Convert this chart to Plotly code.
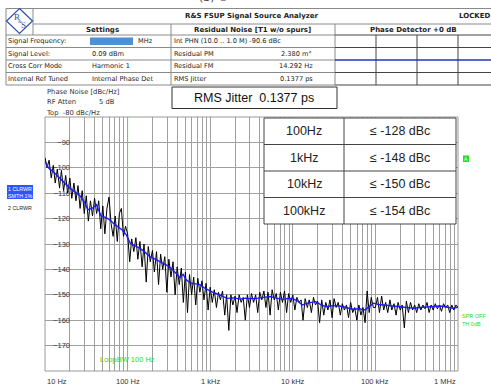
import math
import plotly.graph_objects as go

W, H = 491, 390

# ---------------- data ----------------
freq_d1 = [10, 10.6, 11.2, 11.9, 12.6, 13.3, 14.1, 15.0, 15.8, 16.8, 17.8, 18.8, 20.0, 21.1, 22.4, 23.7, 25.1, 26.6, 28.2, 29.9,
           31.6, 33.5, 35.5, 37.6, 39.8, 42.2, 44.7, 47.3, 50.1, 53.1, 56.2, 59.6, 63.1, 66.8, 70.8, 75.0, 79.4, 84.1, 89.1, 94.4]
level_d1 = [-96, -100, -97, -104, -99, -106, -100.5, -108, -101, -109, -103, -110, -104, -112, -106, -113, -107, -116, -109, -118,
            -111, -121, -113, -119, -112, -118, -113, -124, -115, -126, -116, -111.5, -122, -127, -119, -129, -118, -116, -127, -123]
freq_d2 = [100, 106, 112, 119, 126, 133, 141, 150, 158, 168, 178, 188, 200, 211, 224, 237, 251, 266, 282, 299,
           316, 335, 355, 376, 398, 422, 447, 473, 501, 531, 562, 596, 631, 668, 708, 750, 794, 841, 891, 944]
level_d2 = [-126, -137, -128, -133, -127.5, -136, -129, -139, -130, -145, -131, -137, -132.5, -141, -133, -146, -134, -140, -135, -149,
            -136, -143, -137, -150, -139, -146, -139.5, -153, -141, -157, -142, -150, -143, -154, -143.5, -149, -144.5, -152, -145.5, -156]
freq_d3 = [1000, 1060, 1120, 1190, 1260, 1330, 1410, 1500, 1580, 1680, 1780, 1880, 2000, 2110, 2240, 2370, 2510, 2660, 2820, 2990,
           3160, 3350, 3550, 3760, 3980, 4220, 4470, 4730, 5010, 5310, 5620, 5960, 6310, 6680, 7080, 7500, 7940, 8410, 8910, 9440]
level_d3 = [-147, -153, -148, -155, -149, -152, -148.5, -158, -150, -164, -150, -154, -150.5, -157, -150, -153, -151, -160, -150, -155,
            -149.5, -153, -150, -157, -149, -152, -148.5, -155, -149, -158, -148, -152, -149.5, -156, -149, -153, -148.5, -157, -149.5, -153]
freq_d4 = [10000, 10600, 11200, 11900, 12600, 13300, 14100, 15000, 15800, 16800, 17800, 18800, 20000, 21100, 22400, 23700, 25100, 26600, 28200, 29900,
           31600, 33500, 35500, 37600, 39800, 42200, 44700, 47300, 50100, 53100, 56200, 59600, 63100, 66800, 70800, 75000, 79400, 84100, 89100, 94400]
level_d4 = [-150, -156, -151, -153, -152, -160, -151.5, -155, -152, -157, -151, -154, -152.5, -161, -152, -158, -153, -156, -152, -159,
            -151.5, -155, -153, -158, -153.5, -156, -154, -159, -153, -157, -155, -160, -154, -158, -155, -161, -148.5, -157, -151, -155]
freq_d5 = [100000, 106000, 112000, 119000, 126000, 133000, 141000, 150000, 158000, 168000, 178000, 188000, 200000, 211000, 224000, 237000,
           251000, 266000, 282000, 299000, 316000, 335000, 355000, 376000, 398000, 422000, 447000, 473000, 501000, 531000, 562000, 596000,
           631000, 668000, 708000, 750000, 794000, 841000, 891000, 944000, 1000000]
level_d5 = [-155, -151, -157, -150.5, -156, -153, -157, -152, -156, -153.5, -158, -153, -156, -154, -163, -152.5,
            -157, -153, -156, -154, -157, -153.5, -156, -154, -155.5, -153, -157, -154, -156, -153.5, -155.5, -154,
            -156.5, -153.5, -155, -154, -157, -154, -156, -154, -155]

freq_black = freq_d1 + freq_d2 + freq_d3 + freq_d4 + freq_d5
level_black = level_d1 + level_d2 + level_d3 + level_d4 + level_d5
assert len(freq_black) == len(level_black)

freq_blue = [
    10, 11, 12.5, 15, 17.5, 20, 23, 26.5, 30, 33, 37, 42, 45, 48, 54, 61, 68, 76, 86, 97,
    107, 120, 141, 160, 186, 215, 246, 275, 297, 335, 375, 430, 470, 510, 570, 650, 750, 870,
    1000, 1080, 1300, 1600, 1900, 2300, 2700, 3000, 3670, 4400, 5300, 6300, 7600, 8800,
    10000, 11500, 13000, 15500, 19000, 22000, 25600, 31000, 37000, 44000, 53000, 63000, 75000, 85000, 95000,
    110000, 125000, 150000, 180000, 230000, 290000, 350000, 420000, 500000, 610000, 720000, 870000, 1000000,
]
level_blue = [
    -97.5, -100, -101.5, -104, -106, -108, -109.5, -111, -113.5, -116.5, -116, -114.5, -117, -119, -119.5,
    -120.5, -122, -123.2, -124.5, -126.5, -129.6, -130.5, -131.7, -133, -135, -136, -137, -137.5, -138.3, -139.5,
    -141, -143.2, -142, -144, -145.3, -145.5, -146, -147.5, -148.5, -149, -150, -151.4, -151.2, -151.7, -151.3,
    -151.5, -151.4, -151, -150.7, -151.3, -151.8, -151.4, -151.5, -152.5, -154, -153.2, -152.7, -154, -154.7, -154.2,
    -154.4, -155, -155.7, -155.5, -156, -154.5, -153.3, -153.8, -154, -154.3, -154.7, -154.8, -155.3, -155, -154.9,
    -154.6, -154.4, -154.8, -155.3, -154.9,
]
assert len(freq_blue) == len(level_blue)

x_tick_vals = [10, 100, 1000, 10000, 100000, 1000000]
x_tick_text = ["10 Hz", "100 Hz", "1 kHz", "10 kHz", "100 kHz", "1 MHz"]
y_tick_vals = [-90, -100, -110, -120, -130, -140, -150, -160, -170]
y_range = [-180, -80]
x_range_hz = [10, 1000000]

spec_offsets = ["100Hz", "1kHz", "10kHz", "100kHz"]
spec_limits = [-128, -148, -150, -154]

settings_names = ["Signal Frequency:", "Signal Level:", "Cross Corr Mode", "Internal Ref Tuned"]
settings_values = ["", "0.09 dBm", "Harmonic 1", "Internal Phase Det"]
residual_names = ["Int PHN (10.0 .. 1.0 M) -90.6 dBc", "Residual PM", "Residual FM", "RMS Jitter"]
residual_values = ["", "2.380 m\u00b0", "14.292 Hz", "0.1377 ps"]
loop_bw_hz = 100
loop_bw_bottom = -173
rms_jitter_ps = 0.1377

# ---------------- helpers ----------------
shapes = []
ann = []
FONT = "DejaVu Sans"


def px(x):
    return x / W


def py(y):
    return 1 - y / H


def hline(y, x0, x1, color="#8a8a8a", width=1):
    shapes.append(dict(type="line", xref="paper", yref="paper", x0=px(x0), x1=px(x1),
                       y0=py(y), y1=py(y), line=dict(color=color, width=width)))


def vline(x, y0, y1, color="#8a8a8a", width=1):
    shapes.append(dict(type="line", xref="paper", yref="paper", x0=px(x), x1=px(x),
                       y0=py(y0), y1=py(y1), line=dict(color=color, width=width)))


def rect(x0, y0, x1, y1, fill=None, color="#333", width=1, layer="above"):
    shapes.append(dict(type="rect", xref="paper", yref="paper", x0=px(x0), x1=px(x1),
                       y0=py(y1), y1=py(y0), fillcolor=fill if fill else "rgba(0,0,0,0)",
                       line=dict(color=color, width=width), layer=layer))


def text(x, y, s, size=6.8, color="#222", anchor="left", bold=False, family=FONT, bg=None):
    d = dict(x=px(x), y=py(y), xref="paper", yref="paper", text=("<b>%s</b>" % s) if bold else s,
             showarrow=False, xanchor=anchor, yanchor="middle",
             font=dict(size=size, color=color, family=family), borderpad=0)
    if bg:
        d["bgcolor"] = bg
    ann.append(d)


# ---------------- figure ----------------
PL, PR, PT, PB = 45, 458, 117, 371

fig = go.Figure()
fig.add_trace(go.Scatter(x=[loop_bw_hz, loop_bw_hz], y=[y_range[1], loop_bw_bottom], mode="lines",
                         line=dict(color="#3cf03c", width=1), hoverinfo="skip"))
fig.add_trace(go.Scatter(x=freq_black, y=level_black, mode="lines",
                         line=dict(color="#000000", width=1), hoverinfo="skip"))
fig.add_trace(go.Scatter(x=freq_blue, y=level_blue, mode="lines",
                         line=dict(color="#1a1aff", width=1.4), hoverinfo="skip"))

# plot frame
rect(PL, PT, PR, PB, color="#999999", width=1, layer="between")
# white boxes behind y tick labels
for v in y_tick_vals:
    shapes.append(dict(type="rect", xref="paper", yref="y", x0=px(PL + 1), x1=px(69),
                       y0=v - 2.2, y1=v + 2.2, fillcolor="white", line=dict(width=0), layer="between"))

# x tick labels
for i, (v, t) in enumerate(zip(x_tick_vals, x_tick_text)):
    anchor = "center"
    if i == 0:
        anchor = "left"
    elif i == len(x_tick_vals) - 1:
        anchor = "right"
    ann.append(dict(x=math.log10(v), y=py(381), xref="x", yref="paper", text=t, showarrow=False,
                    xanchor=anchor, yanchor="middle",
                    font=dict(size=7.5, color="#333", family="Liberation Sans")))
text(245, 392, "Frequency Offset", size=7.5, color="#333", anchor="center", family="Liberation Sans")

# loop bw label
ann.append(dict(x=math.log10(loop_bw_hz), y=py(359), xref="x", yref="paper", text="LoopBW 100 Hz",
                showarrow=False, xanchor="center", yanchor="middle",
                font=dict(size=7.5, color="#22dd22", family="Liberation Sans")))

# ---------------- header table ----------------
hline(8.5, 6, 491)
hline(24, 33, 491)
hline(35, 6, 335)
for yy in [47.5, 60, 72.5, 85]:
    hline(yy, 6, 335)
vline(6, 8.5, 85)
vline(33, 8.5, 35)
vline(171, 24, 85)
vline(335, 24, 85)
for yy in [35, 47.5, 72.5, 85]:
    hline(yy, 335, 491, color="#444")
for xx in [376, 417, 458]:
    vline(xx, 35, 85, color="#444")
hline(60, 335, 491, color="#2233bb", width=1.5)

# logo
path = "M %f,%f L %f,%f L %f,%f L %f,%f Z" % (px(19.5), py(8.5), px(32.5), py(21), px(19.5), py(33.5), px(6.5), py(21))
shapes.append(dict(type="path", xref="paper", yref="paper", path=path, line=dict(color="#2d4fb0", width=1.2)))
text(16.5, 17.5, "R", size=9, color="#2d4fb0", anchor="center", family="Liberation Serif")
text(20, 21.5, "&amp;", size=5, color="#2d4fb0", anchor="center", family="Liberation Serif")
text(23, 25.5, "S", size=9, color="#2d4fb0", anchor="center", family="Liberation Serif")

text(252, 16.5, "R&amp;S FSUP Signal Source Analyzer", size=7, bold=True, anchor="center")
text(458, 16.5, "LOCKED", size=7, bold=True)
text(102, 29.7, "Settings", size=7, bold=True, anchor="center")
text(253, 29.7, "Residual Noise [T1 w/o spurs]", size=7, bold=True, anchor="center")
text(413, 29.7, "Phase Detector +0 dB", size=7, bold=True, anchor="center")

row_y = [41.3, 53.8, 66.3, 78.8]
for i in range(4):
    text(7, row_y[i], settings_names[i], size=6.6)
    text(91, row_y[i], settings_values[i], size=6.6)
    text(173, row_y[i], residual_names[i], size=6.6)
    text(296, row_y[i], residual_values[i], size=6.6, anchor="center")
rect(90, 37.5, 133, 45, fill="#4f8fd6", color="#4f8fd6", width=0)
text(137, row_y[0], "MHz", size=6.6)

# below table labels
text(46, 91.5, "Phase Noise [dBc/Hz]", size=6.8, color="#333")
text(46, 102.5, "RF Atten", size=6.8, color="#333")
text(98, 102.5, "5 dB", size=6.8, color="#333")
text(45, 113, "Top  -80 dBc/Hz", size=6.8, color="#333")

# RMS jitter box
rect(172, 87, 337, 108.5, fill="white", color="#333")
text(254.5, 98, "RMS Jitter  %.4f ps" % rms_jitter_ps, size=12.5, color="#111", anchor="center",
     family="Liberation Sans")

# spec table
T_L, T_R, T_M = 264, 456, 344
row_edges = [118, 144.5, 171, 197.5, 224]
rect(T_L, row_edges[0], T_R, row_edges[-1], fill="white", color="#444")
for yy in row_edges[1:-1]:
    hline(yy, T_L, T_R, color="#444")
vline(T_M, row_edges[0], row_edges[-1], color="#444")
for i in range(4):
    yc = (row_edges[i] + row_edges[i + 1]) / 2
    text((T_L + T_M) / 2, yc, spec_offsets[i], size=12.5, color="#222", anchor="center", family="Liberation Sans")
    text((T_M + T_R) / 2, yc, "\u2264 %d dBc" % spec_limits[i], size=12.5, color="#222", anchor="center",
         family="Liberation Sans")

# marker A
rect(463, 155.5, 469, 162, fill="#22dd22", color="#22dd22", width=0)
text(466, 158.8, "A", size=5, color="white", anchor="center", family="Liberation Sans")

# trace labels
rect(7, 185, 33, 199, fill="#2b55ff", color="#2b55ff", width=0)
text(20, 188.5, "1 CLRWR", size=5.3, color="white", anchor="center", family="Liberation Sans")
text(20, 195.5, "SMTH 1%", size=5.3, color="white", anchor="center", family="Liberation Sans")
text(20, 207.5, "2 CLRWR", size=5.3, color="#222", anchor="center", family="Liberation Sans")
text(461, 316, "SPR OFF", size=5.5, color="#22dd22", family="Liberation Sans")
text(461, 323.5, "TH 0dB", size=5.5, color="#22dd22", family="Liberation Sans")

# cut-off caption at very top
text(213, -3, "(b) \u2460", size=11, color="#333", anchor="center")

fig.update_layout(
    width=W, height=H, margin=dict(l=0, r=0, t=0, b=0),
    paper_bgcolor="white", plot_bgcolor="white", showlegend=False,
    shapes=shapes, annotations=ann,
    xaxis=dict(type="log", range=[math.log10(x_range_hz[0]), math.log10(x_range_hz[1])],
               domain=[px(PL), px(PR)], dtick="D1", showticklabels=False, ticks="",
               showgrid=True, gridcolor="#a0a0a0", gridwidth=1, zeroline=False, showline=False),
    yaxis=dict(range=y_range, domain=[py(PB), py(PT)], anchor="free", position=px(70),
               tickvals=y_tick_vals, ticks="", showline=False, zeroline=False,
               showgrid=True, gridcolor="#a0a0a0", gridwidth=1, layer="below traces",
               tickfont=dict(size=7.5, color="#333", family="Liberation Sans")),
)

fig.write_html("out.html")
